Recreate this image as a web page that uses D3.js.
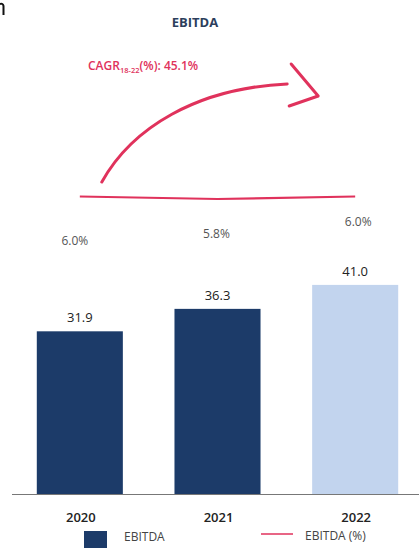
<!DOCTYPE html>
<html>
<head>
<meta charset="utf-8">
<script src="https://cdn.jsdelivr.net/npm/d3@7"></script>
<style>
  html, body { margin: 0; padding: 0; background: #fff; overflow: hidden; }
  svg text { font-family: "Open Sans", "Noto Sans", sans-serif; }
</style>
</head>
<body>
<div id="chart"></div>
<script>
// Data
const years = ["2020", "2021", "2022"];
const ebitda = [31.9, 36.3, 41.0];
const ebitdaPct = [6.0, 5.8, 6.0];
const pctLabels = ["6.0%", "5.8%", "6.0%"];
const cagrText = "45.1%";

// Layout
const W = 419, H = 548;
const baseY = 494;
// where each % label sits relative to its line point (dx, dy)
const pctLabelOffsets = [[-5, 48], [-1, 39], [3, 29]];

const svg = d3.select("#chart")
  .append("svg")
  .attr("width", W)
  .attr("height", H);

// Scales
const x = d3.scaleBand()
  .domain(years)
  .range([20, 415])
  .paddingInner(0.375)
  .paddingOuter(0.122);

const y = d3.scaleLinear()
  .domain([0, 45])
  .range([baseY, 264.5]);

const yPct = d3.scaleLinear()
  .domain([5.8, 6.0])
  .range([199, 196.5]);

const cx = d => x(d) + x.bandwidth() / 2;
const red = "#e0325c";

// cropped stroke at the top left corner
svg.append("path")
  .attr("d", "M0,4 Q3,3 3.5,6 L3.5,15")
  .attr("fill", "none")
  .attr("stroke", "#111")
  .attr("stroke-width", 2);

// Title
svg.append("text")
  .attr("x", 195).attr("y", 27)
  .attr("text-anchor", "middle")
  .attr("font-size", 13)
  .attr("font-weight", 700)
  .attr("fill", "#2c3e5c")
  .text("EBITDA");

// CAGR label
const cagr = svg.append("text")
  .attr("x", 88).attr("y", 70)
  .attr("font-size", 12)
  .attr("font-weight", 600)
  .attr("fill", red);
cagr.append("tspan").text("CAGR");
cagr.append("tspan").attr("font-size", 7.5).attr("dy", 3).text("18-22");
cagr.append("tspan").attr("dy", -3).text("(%): " + cagrText);

// CAGR arrow
const a0 = cx(years[0]) + 22, a1 = cx(years[2]) - 68;
svg.append("path")
  .attr("d", `M${a0},182 C${a0 + 30},128 ${a0 + 95},88 ${a1},84`)
  .attr("fill", "none")
  .attr("stroke", red)
  .attr("stroke-width", 3)
  .attr("stroke-linecap", "round");
svg.append("path")
  .attr("d", `M${a1 + 4},64 L${a1 + 31},96 L${a1 + 2},106`)
  .attr("fill", "none")
  .attr("stroke", red)
  .attr("stroke-width", 3)
  .attr("stroke-linejoin", "round")
  .attr("stroke-linecap", "round");

// EBITDA % line
const line = d3.line()
  .x((d, i) => cx(years[i]))
  .y(d => yPct(d));
svg.append("path")
  .datum(ebitdaPct)
  .attr("d", line)
  .attr("fill", "none")
  .attr("stroke", red)
  .attr("stroke-width", 2.2);

svg.selectAll(".pct-label")
  .data(ebitdaPct)
  .enter()
  .append("text")
  .attr("class", "pct-label")
  .attr("x", (d, i) => cx(years[i]) + pctLabelOffsets[i][0])
  .attr("y", (d, i) => yPct(d) + pctLabelOffsets[i][1])
  .attr("text-anchor", "middle")
  .attr("font-size", 12)
  .attr("fill", "#555")
  .text((d, i) => pctLabels[i]);

// Bars
svg.selectAll(".bar")
  .data(ebitda)
  .enter()
  .append("rect")
  .attr("class", "bar")
  .attr("x", (d, i) => x(years[i]))
  .attr("y", d => y(d))
  .attr("width", x.bandwidth())
  .attr("height", d => baseY - y(d))
  .attr("fill", (d, i) => i === years.length - 1 ? "#c2d4ee" : "#1c3b69");

svg.selectAll(".val-label")
  .data(ebitda)
  .enter()
  .append("text")
  .attr("class", "val-label")
  .attr("x", (d, i) => cx(years[i]))
  .attr("y", d => y(d) - 9)
  .attr("text-anchor", "middle")
  .attr("font-size", 13)
  .attr("fill", "#222")
  .text(d => d.toFixed(1));

// Baseline
svg.append("line")
  .attr("x1", 12).attr("x2", W)
  .attr("y1", baseY + 0.5).attr("y2", baseY + 0.5)
  .attr("stroke", "#777")
  .attr("stroke-width", 1.2);

// Year labels
svg.selectAll(".year")
  .data(years)
  .enter()
  .append("text")
  .attr("class", "year")
  .attr("x", d => cx(d) + 1)
  .attr("y", 522)
  .attr("text-anchor", "middle")
  .attr("font-size", 13)
  .attr("font-weight", 600)
  .attr("fill", "#222")
  .text(d => d);

// Legend
svg.append("rect")
  .attr("x", 84).attr("y", 531)
  .attr("width", 23).attr("height", 20)
  .attr("fill", "#1c3b69");
svg.append("text")
  .attr("x", 124).attr("y", 541)
  .attr("font-size", 12)
  .attr("fill", "#444")
  .text("EBITDA");
svg.append("line")
  .attr("x1", 261).attr("x2", 293)
  .attr("y1", 534).attr("y2", 534)
  .attr("stroke", red)
  .attr("stroke-width", 1.5);
svg.append("text")
  .attr("x", 305).attr("y", 540)
  .attr("font-size", 12)
  .attr("fill", "#444")
  .text("EBITDA (%)");
</script>
</body>
</html>
